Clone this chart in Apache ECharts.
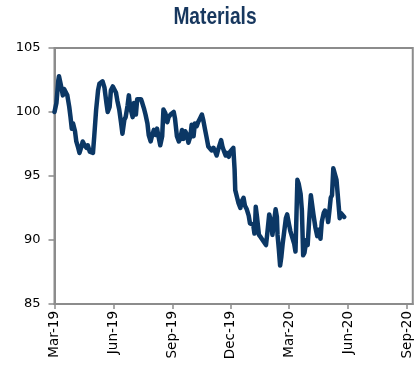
<!DOCTYPE html>
<html>
<head>
<meta charset="utf-8">
<script src="https://cdn.jsdelivr.net/npm/echarts@6/dist/echarts.min.js"></script>
<style>
  html, body { margin: 0; padding: 0; background: #fff; }
  #chart { width: 414px; height: 374px; }
</style>
</head>
<body>
<div id="chart"></div>
<script>
// Materials sector index, rebased to 100 at the start of March 2019
const dates = [
  '2019-03-01','2019-03-04','2019-03-07','2019-03-08','2019-03-11','2019-03-14','2019-03-16','2019-03-19',
  '2019-03-21','2019-03-24','2019-03-26','2019-03-28','2019-03-30','2019-04-02','2019-04-04','2019-04-07',
  '2019-04-09','2019-04-12','2019-04-14','2019-04-17','2019-04-20','2019-04-22','2019-04-25','2019-04-27',
  '2019-04-30','2019-05-02','2019-05-05','2019-05-08','2019-05-10','2019-05-13','2019-05-15','2019-05-18',
  '2019-05-21','2019-05-23','2019-05-26','2019-05-28','2019-05-31','2019-06-02','2019-06-05','2019-06-07',
  '2019-06-10','2019-06-13','2019-06-15','2019-06-18','2019-06-20','2019-06-23','2019-06-25','2019-06-27',
  '2019-07-01','2019-07-03','2019-07-06','2019-07-08','2019-07-11','2019-07-14','2019-07-16','2019-07-19',
  '2019-07-21','2019-07-24','2019-07-26','2019-07-29','2019-07-31','2019-08-03','2019-08-06','2019-08-08',
  '2019-08-11','2019-08-13','2019-08-16','2019-08-18','2019-08-21','2019-08-24','2019-08-26','2019-08-29',
  '2019-08-31','2019-09-03','2019-09-05','2019-09-08','2019-09-11','2019-09-13','2019-09-16','2019-09-18',
  '2019-09-21','2019-09-23','2019-09-26','2019-09-29','2019-10-01','2019-10-04','2019-10-06','2019-10-09',
  '2019-10-11','2019-10-14','2019-10-17','2019-10-19','2019-10-22','2019-10-24','2019-10-27','2019-10-29',
  '2019-11-01','2019-11-04','2019-11-06','2019-11-09','2019-11-11','2019-11-14','2019-11-16','2019-11-18',
  '2019-11-20','2019-11-23','2019-11-25','2019-11-28','2019-11-30','2019-12-03','2019-12-05','2019-12-07',
  '2019-12-08','2019-12-11','2019-12-13','2019-12-16','2019-12-18','2019-12-21','2019-12-23','2019-12-26',
  '2019-12-29','2019-12-31','2020-01-03','2020-01-05','2020-01-07','2020-01-08','2020-01-09','2020-01-11',
  '2020-01-14','2020-01-17','2020-01-21','2020-01-25','2020-01-27','2020-01-30','2020-02-02','2020-02-04',
  '2020-02-07','2020-02-09','2020-02-11','2020-02-12','2020-02-14','2020-02-16','2020-02-18','2020-02-20',
  '2020-02-22','2020-02-25','2020-02-27','2020-03-01','2020-03-03','2020-03-06','2020-03-09','2020-03-11',
  '2020-03-14','2020-03-16','2020-03-19','2020-03-21','2020-03-23','2020-03-25','2020-03-28','2020-03-30',
  '2020-04-02','2020-04-04','2020-04-07','2020-04-08','2020-04-11','2020-04-14','2020-04-16','2020-04-19',
  '2020-04-21','2020-04-24','2020-04-26','2020-04-29','2020-05-01','2020-05-03','2020-05-05','2020-05-07',
  '2020-05-09','2020-05-12','2020-05-14','2020-05-17','2020-05-19','2020-05-21','2020-05-24','2020-05-26'
];

const values = [
  100.0,100.7,102.5,102.8,102.1,101.3,101.8,101.7,
  101.3,100.4,99.6,98.7,99.1,98.5,97.7,97.2,
  96.8,97.3,97.7,97.4,97.2,97.4,96.9,97.0,
  96.8,98.1,100.2,101.7,102.2,102.1,102.4,101.9,
  100.7,100.0,100.4,101.7,102.0,101.8,101.5,100.9,
  100.2,99.1,98.3,99.4,99.6,100.5,101.3,100.4,
  99.6,100.7,99.8,101.0,100.9,101.0,100.7,100.2,
  99.8,99.1,98.2,97.7,98.1,98.6,98.2,98.7,
  97.9,97.4,98.1,100.2,99.9,99.2,99.6,99.8,
  99.9,100.0,99.5,98.1,97.7,97.9,98.6,97.9,
  98.5,98.3,97.6,98.1,99.0,98.1,99.1,98.9,
  99.2,99.5,99.8,99.4,98.6,98.1,97.3,97.2,
  97.0,97.2,97.0,96.6,97.0,96.9,97.8,97.3,
  97.0,96.6,96.8,96.5,96.9,96.8,97.2,95.5,
  93.9,93.3,92.9,92.5,93.0,93.3,92.7,92.4,
  91.9,91.3,91.4,91.2,90.5,91.2,92.6,91.8,
  90.4,90.2,89.9,89.6,90.5,92.0,91.4,90.4,
  91.6,92.4,91.8,90.4,89.3,88.0,88.7,89.7,
  90.5,91.7,92.0,91.2,90.7,90.8,89.7,89.1,
  94.7,94.4,93.6,92.3,88.8,89.0,90.0,89.6,
  92.1,93.5,93.4,92.0,91.0,90.3,90.8,90.1,
  91.4,92.1,92.3,92.1,91.4,92.3,93.3,93.5,
  95.6,95.7,94.7,92.9,91.7,92.1,92.0,91.8
];

// Quarterly tick positions and their labels
const tickDates = ['2019-03-01','2019-06-01','2019-09-01','2019-12-01','2020-03-01','2020-06-01','2020-09-01'];
const tickLabels = ['Mar-19','Jun-19','Sep-19','Dec-19','Mar-20','Jun-20','Sep-20'];

// Axis span, one category per calendar day (runs a little past the last label)
const xStart = '2019-03-01';
const xEnd = '2020-09-10';

const pad = n => String(n).padStart(2, '0');
const dayKey = t => {
  const d = new Date(t);
  return d.getUTCFullYear() + '-' + pad(d.getUTCMonth() + 1) + '-' + pad(d.getUTCDate());
};
const toTime = s => {
  const [y, m, d] = s.split('-').map(Number);
  return Date.UTC(y, m - 1, d);
};

const days = [];
for (let t = toTime(xStart); t <= toTime(xEnd); t += 86400000) days.push(dayKey(t));

const valueByDay = {};
dates.forEach((d, i) => { valueByDay[d] = values[i]; });
const seriesData = days.map(d => (d in valueByDay ? valueByDay[d] : null));

const labelFor = {};
tickDates.forEach((d, i) => { labelFor[d] = tickLabels[i]; });
const isTick = (idx, val) => val in labelFor;

const axisGrey = '#8c8c8c';
const navy = '#0b3765';

const chart = echarts.init(document.getElementById('chart'), null, { renderer: 'canvas' });
chart.setOption({
  animation: false,
  backgroundColor: '#ffffff',
  graphic: [
    {
      // Condensed bold heading
      type: 'text',
      x: 215,
      y: 17,
      scaleX: 0.8,
      style: {
        text: 'Materials',
        x: 0,
        y: 0,
        align: 'center',
        verticalAlign: 'middle',
        font: 'bold 24px "Liberation Sans", Arial, sans-serif',
        fill: '#17375e'
      }
    }
  ],
  grid: {
    left: 54.5, right: -3, top: 48, bottom: 70, containLabel: false,
    show: true, borderColor: axisGrey, borderWidth: 2, backgroundColor: 'transparent'
  },
  xAxis: {
    type: 'category',
    data: days,
    boundaryGap: false,
    axisLine: { show: true, lineStyle: { color: axisGrey, width: 2 } },
    axisTick: {
      show: true, length: 5, inside: false,
      interval: isTick,
      lineStyle: { color: axisGrey, width: 1.5 }
    },
    axisLabel: {
      show: true,
      interval: isTick,
      rotate: 90,
      margin: 7,
      fontFamily: '"DejaVu Sans", sans-serif',
      fontSize: 13.5,
      color: '#000000',
      formatter: v => labelFor[v] || ''
    },
    splitLine: { show: false }
  },
  yAxis: {
    type: 'value',
    min: 85,
    max: 105,
    interval: 5,
    axisLine: { show: true, onZero: false, lineStyle: { color: axisGrey, width: 2 } },
    axisTick: { show: true, length: 6, lineStyle: { color: axisGrey, width: 1.5 } },
    axisLabel: {
      margin: 14,
      fontFamily: '"DejaVu Sans", sans-serif',
      fontSize: 13,
      color: '#000000'
    },
    splitLine: { show: false }
  },
  series: [
    {
      type: 'line',
      data: seriesData,
      connectNulls: true,
      showSymbol: false,
      symbol: 'none',
      lineStyle: { color: navy, width: 4.5, join: 'round', cap: 'round' },
      smooth: false
    }
  ]
});
</script>
</body>
</html>
